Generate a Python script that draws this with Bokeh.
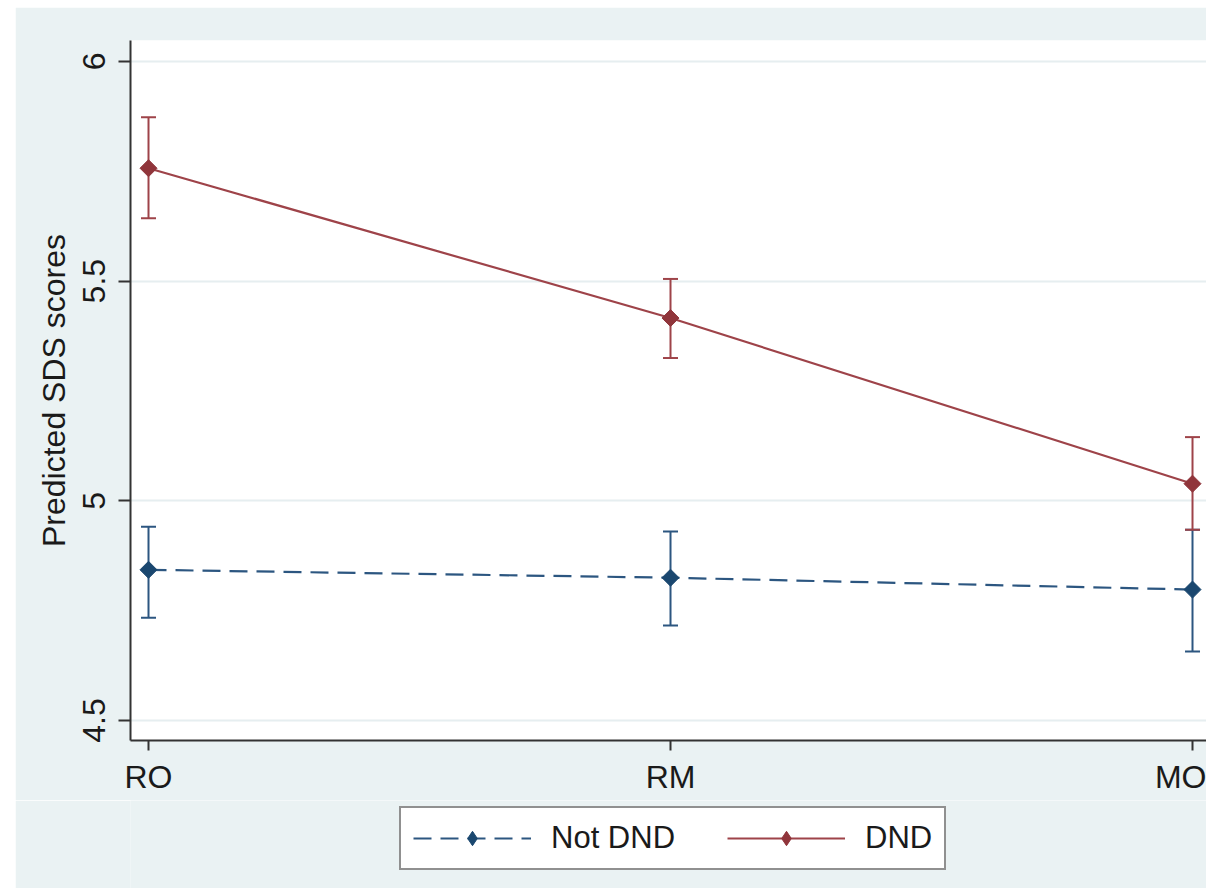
import numpy as np
from bokeh.plotting import figure
from bokeh.layouts import column
from bokeh.models import (ColumnDataSource, Whisker, TeeHead, Legend, LegendItem,
                          FixedTicker, CustomJSTickFormatter, Range1d)
from bokeh.embed import file_html
from bokeh.resources import INLINE

# ---- data ----
categories = ["RO", "RM", "MO"]
not_dnd_mean = [4.843, 4.825, 4.798]
not_dnd_lower = [4.734, 4.716, 4.657]
not_dnd_upper = [4.941, 4.930, 4.934]
dnd_mean = [5.757, 5.416, 5.039]
dnd_lower = [5.643, 5.325, 4.934]
dnd_upper = [5.873, 5.505, 5.145]
y_ticks = [4.5, 5.0, 5.5, 6.0]
series_labels = ["Not DND", "DND"]

x_pos = list(range(len(categories)))

BG = "#EAF2F3"
NAVY = "#1A476F"
NAVY_L = "#2C5680"
MAROON = "#90353B"
MAROON_L = "#9E4349"
FONT = "Liberation Sans"
FS = "32px"

p = figure(width=1191, height=793, output_backend="svg", toolbar_location=None,
           x_range=Range1d(-0.0345, 2.0268), y_range=Range1d(4.4545, 6.0477),
           min_border_left=115, min_border_right=0, min_border_top=33, min_border_bottom=60,
           background_fill_color="white", border_fill_color=BG, outline_line_color=None)

# axes
p.xaxis.ticker = FixedTicker(ticks=x_pos)
p.xaxis.major_label_overrides = {i: c for i, c in zip(x_pos, categories)}
p.yaxis.ticker = FixedTicker(ticks=y_ticks)
p.yaxis.formatter = CustomJSTickFormatter(code="return tick.toString()")
p.yaxis.major_label_orientation = "vertical"
p.yaxis.axis_label = "Predicted SDS scores"

for ax in (p.xaxis[0], p.yaxis[0]):
    ax.axis_line_color = "#333333"
    ax.axis_line_width = 2
    ax.major_tick_line_color = "#333333"
    ax.major_tick_line_width = 2
    ax.major_tick_in = 0
    ax.minor_tick_line_color = None
    ax.major_label_text_font = FONT
    ax.major_label_text_font_size = FS
    ax.major_label_text_color = "#1a1a1a"
    ax.axis_label_text_font = FONT
    ax.axis_label_text_font_size = FS
    ax.axis_label_text_font_style = "normal"
    ax.axis_label_text_color = "#1a1a1a"

p.xaxis.major_tick_out = 10
p.xaxis.major_label_standoff = 8
p.yaxis.major_tick_out = 12
p.yaxis.major_label_standoff = 13
p.yaxis.axis_label_standoff = 9

p.xgrid.grid_line_color = None
p.ygrid.grid_line_color = "#E6EEF0"
p.ygrid.grid_line_width = 2

src_n = ColumnDataSource(dict(x=x_pos, y=not_dnd_mean, lo=not_dnd_lower, hi=not_dnd_upper))
src_d = ColumnDataSource(dict(x=x_pos, y=dnd_mean, lo=dnd_lower, hi=dnd_upper))

line_n = dict(line_color=NAVY_L, line_width=2.2, line_dash="18 9")
line_d = dict(line_color=MAROON_L, line_width=2.2)
mark_n = dict(marker="square", size=12, angle=np.pi / 4, fill_color=NAVY, line_color=NAVY)
mark_d = dict(marker="square", size=12, angle=np.pi / 4, fill_color=MAROON, line_color=MAROON)

p.line("x", "y", source=src_n, **line_n)
p.line("x", "y", source=src_d, **line_d)

for src, col in ((src_n, NAVY_L), (src_d, MAROON_L)):
    w = Whisker(base="x", lower="lo", upper="hi", source=src,
                line_color=col, line_width=2,
                upper_head=TeeHead(size=15, line_color=col, line_width=2),
                lower_head=TeeHead(size=15, line_color=col, line_width=2))
    p.add_layout(w)

p.scatter("x", "y", source=src_n, **mark_n)
p.scatter("x", "y", source=src_d, **mark_d)

# legend strip (separate figure so the box is not clipped by the plot frame)
lg = figure(width=1191, height=88, output_backend="svg", toolbar_location=None,
            x_range=Range1d(100, 101), y_range=Range1d(100, 101),
            x_axis_type=None, y_axis_type=None,
            min_border=0, background_fill_color=BG, border_fill_color=BG,
            outline_line_color=None)
lg.grid.visible = False
r_ln = lg.line("x", "y", source=src_n, **line_n)
r_mn = lg.scatter("x", "y", source=src_n, marker="diamond", size=12, fill_color=NAVY, line_color=NAVY)
r_ld = lg.line("x", "y", source=src_d, **line_d)
r_md = lg.scatter("x", "y", source=src_d, marker="diamond", size=12, fill_color=MAROON, line_color=MAROON)

legend = Legend(items=[LegendItem(label=series_labels[0], renderers=[r_ln, r_mn]),
                       LegendItem(label=series_labels[1], renderers=[r_ld, r_md])],
                orientation="horizontal", location=(269, 18),
                label_text_font=FONT, label_text_font_size="31px", label_text_color="#1a1a1a",
                glyph_width=118, glyph_height=36, label_standoff=20, spacing=52,
                padding=12, margin=0,
                border_line_color="#222222", border_line_width=2,
                background_fill_color="white", background_fill_alpha=1.0)
lg.add_layout(legend, "center")

layout = column(p, lg, spacing=0)
layout.margin = (7, 0, 0, 15)

open("out.html", "w").write(file_html(layout, INLINE))
